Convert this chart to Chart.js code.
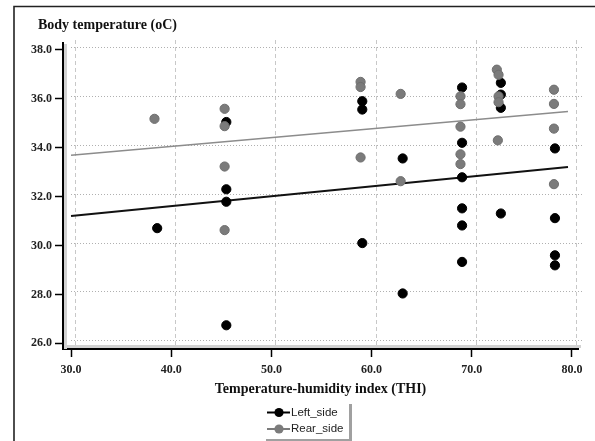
<!DOCTYPE html>
<html>
<head>
<meta charset="utf-8">
<script src="https://cdn.jsdelivr.net/npm/chart.js@4.4.0/dist/chart.umd.min.js"></script>
<style>
  html, body { margin: 0; padding: 0; background: #fff; }
  #wrap { width: 595px; height: 441px; }
</style>
</head>
<body>
<div id="wrap"><canvas id="thiChart" width="595" height="441"></canvas></div>
<script>
// Body temperature vs THI

// Left side readings
const leftTHI  = [38.6, 45.5, 45.5, 45.5, 45.5, 59.07, 59.07, 59.07, 63.1, 63.1,
                  69.03, 69.03, 69.03, 69.03, 69.03, 69.03, 72.9, 72.9, 72.9, 72.9,
                  78.3, 78.3, 78.3, 78.3];
const leftTemp = [30.71, 35.05, 32.30, 31.79, 26.74, 35.90, 35.56, 30.10, 33.56, 28.04,
                  36.46, 34.20, 32.79, 31.52, 30.82, 29.33, 36.65, 36.17, 35.63, 31.31,
                  33.97, 31.12, 29.60, 29.19];

// Rear side readings
const rearTHI  = [38.33, 45.33, 45.33, 45.33, 45.33, 58.9, 58.9, 58.9, 62.9, 62.9,
                  68.87, 68.87, 68.87, 68.87, 68.87, 72.5, 72.67, 72.67, 72.67, 72.6,
                  78.2, 78.2, 78.2, 78.2];
const rearTemp = [35.18, 35.59, 34.88, 33.23, 30.63, 36.69, 36.48, 33.60, 36.20, 32.63,
                  36.10, 35.78, 34.86, 33.73, 33.33, 37.19, 36.98, 36.10, 35.86, 34.30,
                  36.37, 35.79, 34.78, 32.51];

// fit lines (end points)
const fitTHI  = [30.0, 79.6];
const leftFit = [31.21, 33.21];
const rearFit = [33.69, 35.48];

const xTicks = [30, 40, 50, 60, 70, 80];
const yTicks = [26, 28, 30, 32, 34, 36, 38];

const pts = (xs, ys) => xs.map((v, i) => ({ x: v, y: ys[i] }));

const serifBold = (size) => ({ family: "'Liberation Serif', 'Times New Roman', serif", size: size, weight: 'bold' });

// frame, offset grid, axis shading, title and legend
const decor = {
    id: 'decor',
    beforeDraw(chart) {
        const ctx = chart.ctx;
        ctx.save();
        ctx.strokeStyle = '#222';
        ctx.lineWidth = 1.6;
        ctx.beginPath();
        ctx.moveTo(14, 441);
        ctx.lineTo(14, 6.5);
        ctx.lineTo(595, 6.5);
        ctx.stroke();
        ctx.restore();
    },
    beforeDatasetsDraw(chart) {
        const { ctx, chartArea: a, scales: { x, y } } = chart;
        ctx.save();
        // vertical dashed grid
        ctx.lineWidth = 1;
        ctx.strokeStyle = '#c8c8c8';
        ctx.setLineDash([4, 3]);
        xTicks.forEach(v => {
            const px = Math.round(x.getPixelForValue(v)) + 4.5;
            ctx.beginPath();
            ctx.moveTo(px, a.top - 3);
            ctx.lineTo(px, a.bottom - 3);
            ctx.stroke();
        });
        // horizontal dotted grid
        ctx.strokeStyle = '#b0b0b0';
        ctx.setLineDash([1, 2]);
        yTicks.forEach(v => {
            const py = Math.round(y.getPixelForValue(v)) - 2.5;
            ctx.beginPath();
            ctx.moveTo(a.left + 8, py);
            ctx.lineTo(a.right + 4, py);
            ctx.stroke();
        });
        ctx.setLineDash([]);
        // shading along the axes
        ctx.fillStyle = '#d2d2d2';
        ctx.fillRect(a.left + 1, a.top + 1, 3, a.bottom - a.top - 1);
        ctx.fillRect(a.left + 1, a.bottom - 4, a.right - a.left + 2, 3);
        ctx.restore();
    },
    afterDraw(chart) {
        const ctx = chart.ctx;
        ctx.save();
        ctx.fillStyle = '#111';
        ctx.font = "bold 14px 'Liberation Serif', serif";
        ctx.textBaseline = 'middle';
        ctx.textAlign = 'left';
        ctx.fillText('Body temperature (oC)', 38, 25);

        // legend
        ctx.fillStyle = '#a0a0a0';
        ctx.fillRect(349, 404, 3, 37);
        ctx.fillRect(266, 439, 86, 2);
        const rows = [412.5, 429];
        chart.data.datasets.slice(0, 2).forEach((ds, i) => {
            const ry = rows[i];
            ctx.strokeStyle = ds.backgroundColor;
            ctx.lineWidth = 2;
            ctx.beginPath();
            ctx.moveTo(267, ry);
            ctx.lineTo(290, ry);
            ctx.stroke();
            ctx.fillStyle = ds.backgroundColor;
            ctx.beginPath();
            ctx.arc(279, ry, 4.6, 0, Math.PI * 2);
            ctx.fill();
            ctx.fillStyle = '#222';
            ctx.font = "11.5px 'Liberation Sans', Arial, sans-serif";
            ctx.fillText(ds.label, 291, ry);
        });
        ctx.restore();
    }
};

new Chart(document.getElementById('thiChart'), {
    type: 'scatter',
    data: {
        datasets: [
            {
                label: 'Left_side',
                data: pts(leftTHI, leftTemp),
                backgroundColor: '#000',
                borderColor: '#000',
                pointRadius: 4.6,
                order: 1
            },
            {
                label: 'Rear_side',
                data: pts(rearTHI, rearTemp),
                backgroundColor: '#7b7b7b',
                borderColor: '#6e6e6e',
                pointRadius: 4.6,
                order: 0
            },
            {
                label: 'Left fit',
                data: pts(fitTHI, leftFit),
                showLine: true,
                borderColor: '#111',
                borderWidth: 2,
                pointRadius: 0,
                order: 3
            },
            {
                label: 'Rear fit',
                data: pts(fitTHI, rearFit),
                showLine: true,
                borderColor: '#8c8c8c',
                borderWidth: 1.6,
                pointRadius: 0,
                order: 3
            }
        ]
    },
    options: {
        responsive: false,
        animation: false,
        devicePixelRatio: 1,
        layout: { padding: { left: 0, top: 43, right: 17, bottom: 0 } },
        plugins: {
            legend: { display: false },
            tooltip: { enabled: false }
        },
        scales: {
            x: {
                type: 'linear',
                min: 29.2,
                max: 80.6,
                afterBuildTicks: s => { s.ticks = xTicks.map(v => ({ value: v })); },
                afterFit: s => { s.height = 92; },
                ticks: {
                    callback: v => v.toFixed(1),
                    font: serifBold(12),
                    color: '#222',
                    padding: 6,
                    maxRotation: 0,
                    autoSkip: false
                },
                grid: { drawOnChartArea: false, tickLength: 8, tickColor: '#000', tickWidth: 1.5 },
                border: { color: '#000', width: 2 },
                title: {
                    display: true,
                    text: 'Temperature-humidity index (THI)',
                    font: serifBold(14),
                    color: '#111',
                    padding: { top: 4, bottom: 43 }
                }
            },
            y: {
                min: 25.77,
                max: 38.28,
                afterBuildTicks: s => { s.ticks = yTicks.map(v => ({ value: v })); },
                afterFit: s => { s.width = 63; },
                ticks: {
                    callback: v => v.toFixed(1),
                    font: serifBold(12),
                    color: '#222',
                    padding: 3,
                    autoSkip: false
                },
                grid: { drawOnChartArea: false, tickLength: 8, tickColor: '#000', tickWidth: 1.5 },
                border: { color: '#000', width: 2 }
            }
        }
    },
    plugins: [decor]
});
</script>
</body>
</html>
